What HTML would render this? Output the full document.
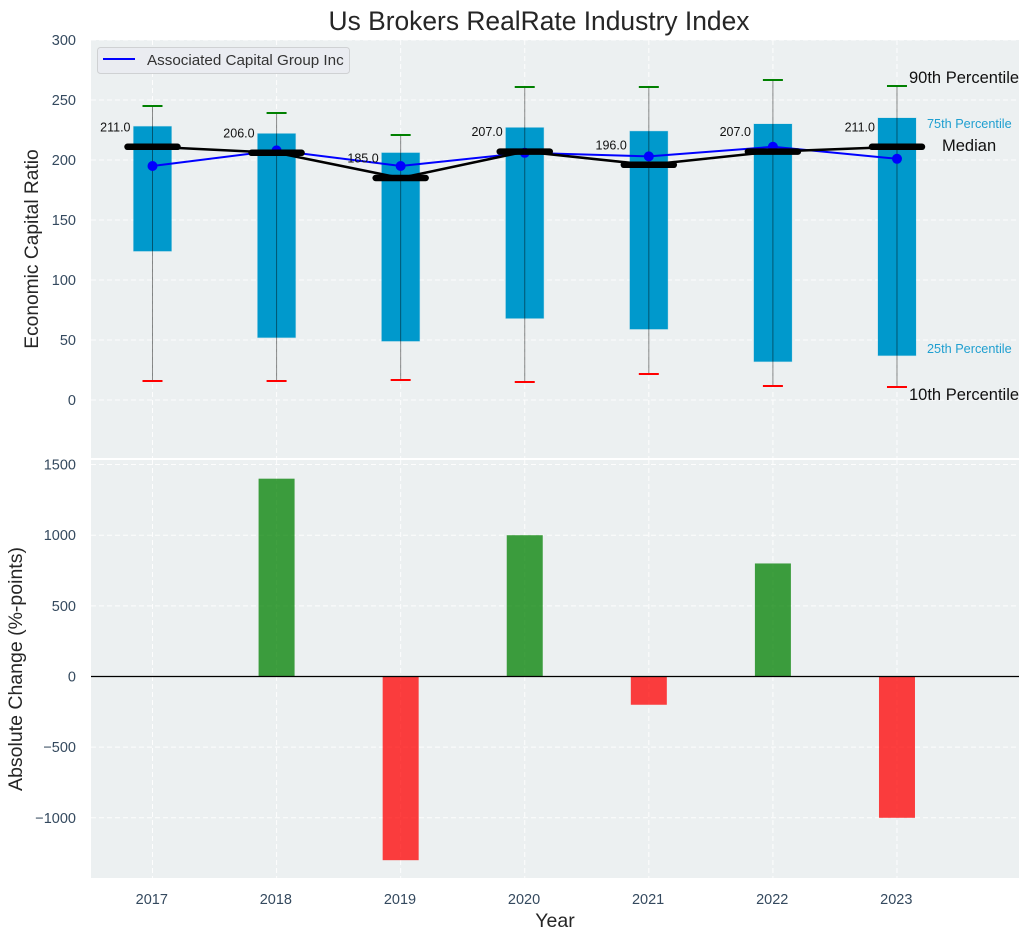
<!DOCTYPE html>
<html>
<head>
<meta charset="utf-8">
<title>Us Brokers RealRate Industry Index</title>
<style>
html,body{margin:0;padding:0;background:#fff;}
svg{display:block;font-family:"Liberation Sans",Arial,sans-serif;}
</style>
</head>
<body>
<svg id="chart" xmlns="http://www.w3.org/2000/svg" width="1030" height="940" viewBox="0 0 1030 940">
  <rect x="0" y="0" width="1030" height="940" fill="#ffffff"/>
  <text x="539" y="30" text-anchor="middle" font-size="26.4" fill="#262626">Us Brokers RealRate Industry Index</text>
  <rect x="91" y="40" width="928" height="418" fill="#ecf0f1"/>
  <rect x="91" y="460" width="928" height="418" fill="#ecf0f1"/>
  <g id="grid"></g>
  <g id="ticks"></g>
  <g id="marks"></g>
  <text transform="translate(38,249) rotate(-90)" text-anchor="middle" font-size="19.2" fill="#262626">Economic Capital Ratio</text>
  <text transform="translate(22,669) rotate(-90)" text-anchor="middle" font-size="19.5" fill="#262626">Absolute Change (%-points)</text>
  <text x="555" y="927" text-anchor="middle" font-size="19.5" fill="#262626">Year</text>
  <g>
    <rect x="97.5" y="47.5" width="252" height="26" rx="3" fill="#eaecf1" stroke="#cfd1d3" stroke-width="1"/>
    <line x1="103" y1="59" x2="135" y2="59" stroke="#0000ff" stroke-width="2"/>
    <text x="147" y="65" font-size="15.2" fill="#333333">Associated Capital Group Inc</text>
  </g>
  <text x="909" y="83" font-size="16.5" fill="#111111">90th Percentile</text>
  <text x="927" y="128" font-size="12.7" fill="#1f9fd0">75th Percentile</text>
  <text x="942" y="151" font-size="16.5" fill="#111111">Median</text>
  <text x="927" y="353" font-size="12.7" fill="#1f9fd0">25th Percentile</text>
  <text x="909" y="400" font-size="16.5" fill="#111111">10th Percentile</text>
</svg>
<script>
const years = [2017, 2018, 2019, 2020, 2021, 2022, 2023];
const p90 = [245, 239, 221, 261, 261, 267, 262];
const p75 = [228, 222, 206, 227, 224, 230, 235];
const median = [211, 206, 185, 207, 196, 207, 211];
const p25 = [124, 52, 49, 68, 59, 32, 37];
const p10 = [16, 16, 17, 15, 22, 12, 11];
const company = [195, 208, 195, 206, 203, 211, 201];
const changes = [null, 1400, -1300, 1000, -200, 800, -1000];
const topTicks = [0, 50, 100, 150, 200, 250, 300];
const bottomTicks = [-1000, -500, 0, 500, 1000, 1500];

const NS = 'http://www.w3.org/2000/svg';
const gridG = document.getElementById('grid');
const ticksG = document.getElementById('ticks');
const marksG = document.getElementById('marks');

function xScale(year) { return 152.5 + (year - 2017) * 124.08; }
function yTop(v) { return 400 - v * 1.2; }
function yBottom(v) { return 676.5 - v * 0.1413; }

function make(tag, attrs, parent) {
  const el = document.createElementNS(NS, tag);
  for (const k in attrs) el.setAttribute(k, attrs[k]);
  parent.appendChild(el);
  return el;
}
const gridStyle = { stroke: '#ffffff', 'stroke-width': 1, 'stroke-dasharray': '5 3', opacity: 0.9 };

years.forEach(function (yr) {
  const x = xScale(yr);
  const g1 = make('line', Object.assign({ x1: x, x2: x, y1: 40, y2: 458 }, gridStyle), gridG);
  
  
  const g2 = make('line', Object.assign({ x1: x, x2: x, y1: 460, y2: 878 }, gridStyle), gridG);
  
  
  const t = make('text', { x: x - 0.7, y: 904, 'text-anchor': 'middle', 'font-size': 14.5, fill: '#34495e' }, ticksG);
  
  
  t.textContent = yr;
});

topTicks.forEach(function (v) {
  const y = yTop(v);
  const g = make('line', Object.assign({ x1: 91, x2: 1019, y1: y, y2: y }, gridStyle), gridG);
  
  
  const t = make('text', { x: 76, y: y + 5, 'text-anchor': 'end', 'font-size': 14.5, fill: '#34495e' }, ticksG);
  
  
  t.textContent = v;
});

bottomTicks.forEach(function (v) {
  const y = yBottom(v);
  const g = make('line', Object.assign({ x1: 91, x2: 1019, y1: y, y2: y }, gridStyle), gridG);
  
  
  const t = make('text', { x: 76, y: y + 5, 'text-anchor': 'end', 'font-size': 14.5, fill: '#34495e' }, ticksG);
  
  
  t.textContent = String(v).replace('-', '\u2212');
});

years.forEach(function (yr, i) {
  const x = xScale(yr);
  const box = make('rect', { x: x - 19, y: yTop(p75[i]), width: 38, height: yTop(p25[i]) - yTop(p75[i]), fill: '#0099cc', stroke: '#0099cc', 'stroke-opacity': 0.2, 'stroke-width': 1 }, marksG);
  
  
  const whisker = make('line', { x1: x, x2: x, y1: yTop(p90[i]), y2: yTop(p10[i]), stroke: '#000000', 'stroke-opacity': 0.45, 'stroke-width': 1 }, marksG);
  
  
  const yHi = Math.round(yTop(p90[i]));
  const hi = make('line', { x1: x - 10, x2: x + 10, y1: yHi, y2: yHi, stroke: '#008000', 'stroke-width': 2 }, marksG);
  
  
  const yLo = Math.round(yTop(p10[i]));
  const lo = make('line', { x1: x - 10, x2: x + 10, y1: yLo, y2: yLo, stroke: '#ff0000', 'stroke-width': 2 }, marksG);
  
  
});

const companyPts = years.map(function (yr, i) { return xScale(yr) + ',' + yTop(company[i]); }).join(' ');
const companyLine = make('polyline', { points: companyPts, fill: 'none', stroke: '#0000ff', 'stroke-width': 2 }, marksG);


years.forEach(function (yr, i) {
  const c = make('circle', { cx: xScale(yr), cy: yTop(company[i]), r: 5, fill: '#0000ff' }, marksG);
  
  
});

const medianPts = years.map(function (yr, i) { return xScale(yr) + ',' + yTop(median[i]); }).join(' ');
const medianLine = make('polyline', { points: medianPts, fill: 'none', stroke: '#000000', 'stroke-width': 2.5 }, marksG);


years.forEach(function (yr, i) {
  const x = xScale(yr);
  const y = yTop(median[i]);
  const m = make('line', { x1: x - 25, x2: x + 25, y1: y, y2: y, stroke: '#000000', 'stroke-width': 6.5, 'stroke-linecap': 'round' }, marksG);
  
  
  const t = make('text', { x: x - 22, y: y - 15.5, 'text-anchor': 'end', 'font-size': 12.5, fill: '#111111' }, marksG);
  
  
  t.textContent = median[i].toFixed(1);
});

years.forEach(function (yr, i) {
  if (changes[i] === null) return;
  const x = xScale(yr);
  const y0 = yBottom(0);
  const y1 = yBottom(changes[i]);
  const bar = make('rect', { x: x - 18, y: Math.min(y0, y1), width: 36, height: Math.abs(y1 - y0), fill: changes[i] >= 0 ? '#008000' : '#ff0000', 'fill-opacity': 0.75 }, marksG);
  
  
});
const zero = make('line', { x1: 91, x2: 1019, y1: yBottom(0), y2: yBottom(0), stroke: '#000000', 'stroke-width': 1.3 }, marksG);


</script>
</body>
</html>
